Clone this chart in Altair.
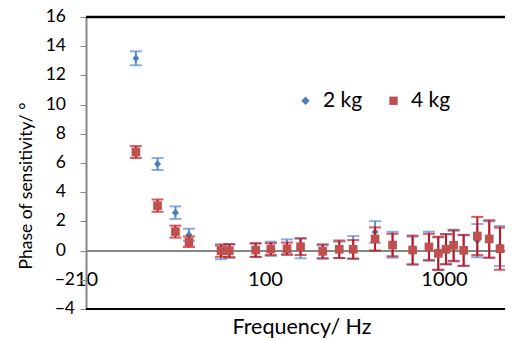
import altair as alt
import pandas as pd

freq = [19, 25.1, 31.6, 37.6, 56.8, 63.2, 88.7, 107.7, 132.7, 158, 210, 260,
        311, 412, 516, 668, 824, 929, 1026, 1132, 1288, 1535, 1790, 2056]
phase_2kg = [13.17, 5.93, 2.6, 1.09, -0.14, -0.05, 0.02, 0.12, 0.26, 0.15, -0.1, 0.05,
             0.21, 1.28, 0.4, 0.0, 0.3, -0.2, 0.1, 0.3, 0.0, 0.68, 0.75, 0.32]
err_2kg = [0.48, 0.41, 0.43, 0.41, 0.45, 0.45, 0.45, 0.49, 0.51, 0.68, 0.45, 0.55,
           0.79, 0.74, 0.89, 0.95, 1.0, 1.1, 1.03, 1.05, 1.05, 1.14, 1.25, 1.37]
phase_4kg = [6.75, 3.08, 1.30, 0.61, 0.0, 0.0, 0.04, 0.11, 0.13, 0.27, -0.05, 0.09,
             0.09, 0.8, 0.38, 0.04, 0.25, -0.19, 0.09, 0.36, 0.02, 1.0, 0.8, 0.13]
err_4kg = [0.41, 0.42, 0.41, 0.36, 0.42, 0.45, 0.47, 0.4, 0.42, 0.57, 0.48, 0.6,
           0.63, 0.79, 0.77, 0.99, 0.9, 1.14, 1.03, 1.06, 1.06, 1.31, 1.28, 1.44]
series = ["2 kg", "4 kg"]
y_ticks = [-4, -2, 0, 2, 4, 6, 8, 10, 12, 14, 16]
x_ticks = [10, 100, 1000]
x_title = "Frequency/ Hz"
y_title = "Phase of sensitivity/ °"

FONT = "Lato"
marker_colors = ["#4A7EBB", "#C0504D"]
bar_colors = ["#5A8ED3", "#C8141E"]


def frame(ph, er, name):
    return pd.DataFrame({
        "f": freq, "v": ph,
        "lo": [p - e for p, e in zip(ph, er)],
        "hi": [p + e for p, e in zip(ph, er)],
        "s": name,
    })


d2 = frame(phase_2kg, err_2kg, series[0])
d4 = frame(phase_4kg, err_4kg, series[1])

xscale = alt.Scale(type="log", domain=[10, 2192], nice=False)
yscale = alt.Scale(domain=[-4, 16], nice=False, zero=False)

xaxis = alt.Axis(values=x_ticks, format="d", ticks=False, grid=False,
                 domainColor="#868686", domainWidth=2, offset=-58.4,
                 labelFontSize=20, labelColor="#000000", labelFont=FONT,
                 labelBaseline="middle", labelPadding=29, labelFlush=False,
                 labelOverlap=False, title=None)
yaxis = alt.Axis(values=y_ticks, grid=False, domainColor="#868686", domainWidth=2,
                 tickColor="#868686", tickSize=6, tickWidth=1, labels=False,
                 title=None)


def xe():
    return alt.X("f:Q", scale=xscale, axis=xaxis, title=None)


def ye(field):
    return alt.Y(field, scale=yscale, axis=yaxis, title=None)


color_enc = alt.Color("s:N", scale=alt.Scale(domain=series, range=marker_colors),
                      legend=alt.Legend(title=None, orient="none", legendX=209, legendY=73,
                                        direction="horizontal", labelFontSize=21,
                                        labelFont=FONT, labelColor="#000000",
                                        symbolSize=70, columnPadding=20, labelOffset=7,
                                        padding=0, symbolStrokeWidth=0))
shape_enc = alt.Shape("s:N", scale=alt.Scale(domain=series, range=["diamond", "square"]),
                      legend=None)


def bars(df, col):
    base = alt.Chart(df)
    rule = base.mark_rule(color=col, strokeWidth=2).encode(
        x=xe(), y=ye("lo:Q"), y2="hi:Q")
    cap_lo = base.mark_tick(color=col, orient="horizontal", size=12, thickness=2).encode(
        x=xe(), y=ye("lo:Q"))
    cap_hi = base.mark_tick(color=col, orient="horizontal", size=12, thickness=2).encode(
        x=xe(), y=ye("hi:Q"))
    return [rule, cap_lo, cap_hi]


def pts(df, size):
    return alt.Chart(df).mark_point(filled=True, opacity=1, size=size).encode(
        x=xe(), y=ye("v:Q"), color=color_enc, shape=shape_enc)


frame_rules = alt.Chart(pd.DataFrame({"y": [16, -4], "w": [2.5, 2]})).mark_rule(
    color="#000000").encode(y=ye("y:Q"),
                            strokeWidth=alt.StrokeWidth("w:Q", scale=None, legend=None))

# y tick labels (negative numbers sit closer to the axis, as in the original)
ylab = pd.DataFrame({"t": y_ticks})
ylab_pos = alt.Chart(ylab).transform_filter("datum.t >= 0").mark_text(
    align="right", baseline="middle", font=FONT, fontSize=17.5, color="#000000").encode(
    y=ye("t:Q"), x=alt.value(-20), text=alt.Text("t:Q", format="d"))
ylab_neg = alt.Chart(ylab).transform_filter("datum.t < 0").mark_text(
    align="right", baseline="middle", font=FONT, fontSize=17.5, color="#000000").encode(
    y=ye("t:Q"), x=alt.value(-11), text=alt.Text("t:Q", format="d"))

one = pd.DataFrame({"a": [0]})
xtitle = alt.Chart(one).mark_text(align="center", baseline="middle", font=FONT,
                                  fontSize=21.5, color="#000000").encode(
    x=alt.value(216), y=alt.value(311), text=alt.value(x_title))
ytitle = alt.Chart(one).mark_text(align="center", baseline="middle", font=FONT,
                                  fontSize=17.5, color="#000000", angle=270).encode(
    x=alt.value(-59), y=alt.value(169), text=alt.value(y_title))

layers = ([frame_rules] + bars(d2, bar_colors[0]) + [pts(d2, 50)] + bars(d4, bar_colors[1])
          + [pts(d4, 75), ylab_pos, ylab_neg, xtitle, ytitle])

chart = alt.layer(*layers).resolve_scale(color="shared", shape="shared").properties(
    width=419, height=292,
    padding={"left": 78, "top": 9, "right": 0, "bottom": 31},
    autosize="none",
).configure_view(stroke=None).configure(font=FONT)

chart.save("out.html", embed_options={"renderer": "svg", "actions": False})
